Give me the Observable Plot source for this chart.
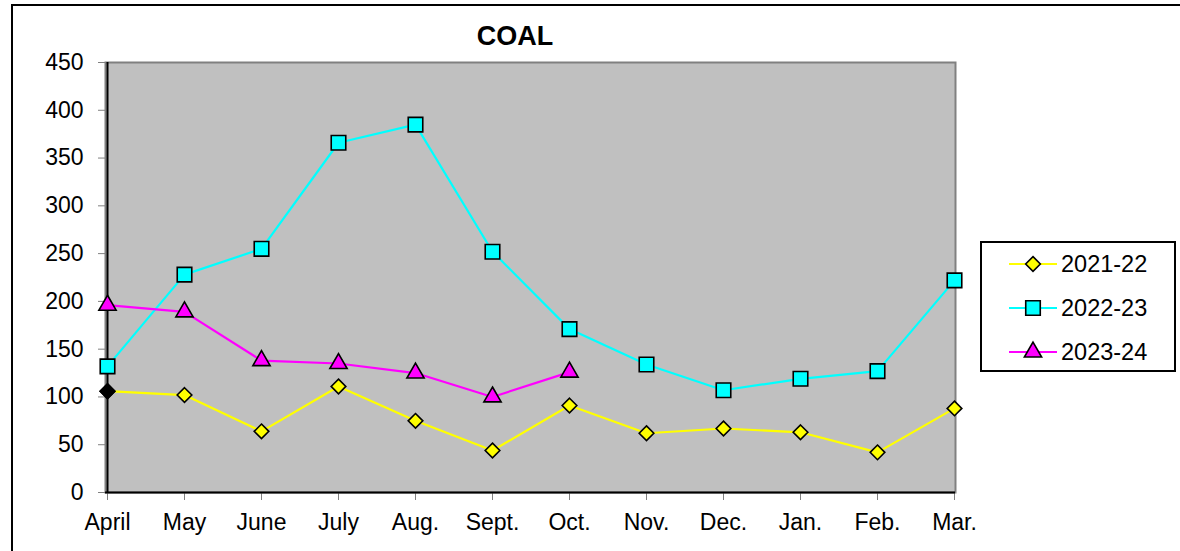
<!DOCTYPE html>
<html><head><meta charset="utf-8">
<script src="https://cdn.jsdelivr.net/npm/d3@7"></script>
<script src="https://cdn.jsdelivr.net/npm/@observablehq/plot@0.6"></script>
<style>
html,body{margin:0;padding:0;background:#fff;}
body{width:1180px;height:551px;overflow:hidden;position:relative;font-family:"Liberation Sans",Arial,sans-serif;}
#border{position:absolute;left:11px;top:4px;width:1400px;height:800px;border-left:2px solid #000;border-top:2px solid #000;}
#chart{position:absolute;left:0;top:0;}
#title{position:absolute;left:415px;width:200px;text-align:center;top:21px;font-weight:bold;font-size:27px;line-height:30px;color:#000;}
#legend{position:absolute;left:980px;top:241px;}
</style></head>
<body>
<div id="border"></div>
<div id="chart"></div>
<div id="title">COAL</div>
<div id="legend"></div>
<script>
const months = ["April","May","June","July","Aug.","Sept.","Oct.","Nov.","Dec.","Jan.","Feb.","Mar."];
const coal2021_22 = [106,102,64,111,75,44,91,62,67,63,42,88];
const coal2022_23 = [132,228,255,366,385,252,171,134,107,119,127,222];
const coal2023_24 = [196,189,138,135,125,100,126,null,null,null,null,null];
const seriesNames = ["2021-22","2022-23","2023-24"];
const seriesColors = ["#FFFF00","#00FFFF","#FF00FF"];
const seriesSymbols = ["diamond2","square","triangle"];
const seriesR = [6.6,8.2,6.4];
const yTicks = [0,50,100,150,200,250,300,350,400,450];

const allSeries = [coal2021_22, coal2022_23, coal2023_24];
const rows = [];
allSeries.forEach((vals,i)=>vals.forEach((v,j)=>{ if(v!=null) rows.push({series:seriesNames[i], month:months[j], value:v}); }));

const dotMarks = seriesNames.map((s,i)=>Plot.dot(rows.filter(d=>d.series===s), {
  x:"month", y:"value", symbol:()=>seriesSymbols[i], r:seriesR[i],
  fill:seriesColors[i], stroke:"#000", strokeWidth:1.6
}));

const plot = Plot.plot({
  width:1180, height:551,
  marginLeft:105, marginRight:225, marginTop:62, marginBottom:59,
  style:{fontFamily:"'Liberation Sans', Arial, sans-serif", fontSize:"23px", background:"transparent", color:"#000", overflow:"visible"},
  x:{type:"point", domain:months, padding:0, label:null},
  y:{domain:[0,450], label:null},
  symbol:{domain:seriesSymbols, range:seriesSymbols},
  color:{domain:seriesNames, range:seriesColors},
  marks:[
    Plot.frame({fill:"#C0C0C0", stroke:"#808080", strokeWidth:2}),
    Plot.axisY({ticks:yTicks, tickSize:7, tickPadding:15, stroke:"#808080", fill:"#000", label:null}),
    Plot.axisX({tickSize:8, tickPadding:13, stroke:"#808080", fill:"#000", label:null}),
    Plot.ruleX([months[0]], {stroke:"#000", strokeWidth:2}),
    Plot.ruleY([0], {stroke:"#000", strokeWidth:2}),
    Plot.line(rows, {x:"month", y:"value", z:"series", stroke:"series", strokeWidth:2.2}),
    ...dotMarks,
    Plot.dot(rows, {filter:d=>d.series===seriesNames[0] && d.month===months[0], x:"month", y:"value",
      symbol:()=>seriesSymbols[0], r:seriesR[0], fill:"#000", stroke:"#000", strokeWidth:1.6})
  ]
});
document.getElementById("chart").appendChild(plot);

// legend
const lw = 196, lh = 131;
const lsvg = d3.select("#legend").append("svg").attr("width", lw).attr("height", lh);
lsvg.append("rect").attr("x",1).attr("y",1).attr("width",lw-2).attr("height",lh-2)
  .attr("fill","#fff").attr("stroke","#000").attr("stroke-width",2);
const symMap = {"diamond2":d3.symbolDiamond2, "square":d3.symbolSquare, "triangle":d3.symbolTriangle};
seriesNames.forEach((s,i)=>{
  const cy = 23 + i*44;
  const g = lsvg.append("g");
  g.append("line").attr("x1",29).attr("x2",77).attr("y1",cy).attr("y2",cy).attr("stroke",seriesColors[i]).attr("stroke-width",2.2);
  g.append("path").attr("transform",`translate(53,${cy})`)
    .attr("d", d3.symbol(symMap[seriesSymbols[i]], Math.PI*seriesR[i]*seriesR[i])())
    .attr("fill",seriesColors[i]).attr("stroke","#000").attr("stroke-width",1.6);
  g.append("text").attr("x",81).attr("y",cy).attr("dy","0.36em")
    .attr("font-size","23.5px").attr("font-family","'Liberation Sans', Arial, sans-serif").attr("fill","#000").text(s);
});
</script>
</body></html>
